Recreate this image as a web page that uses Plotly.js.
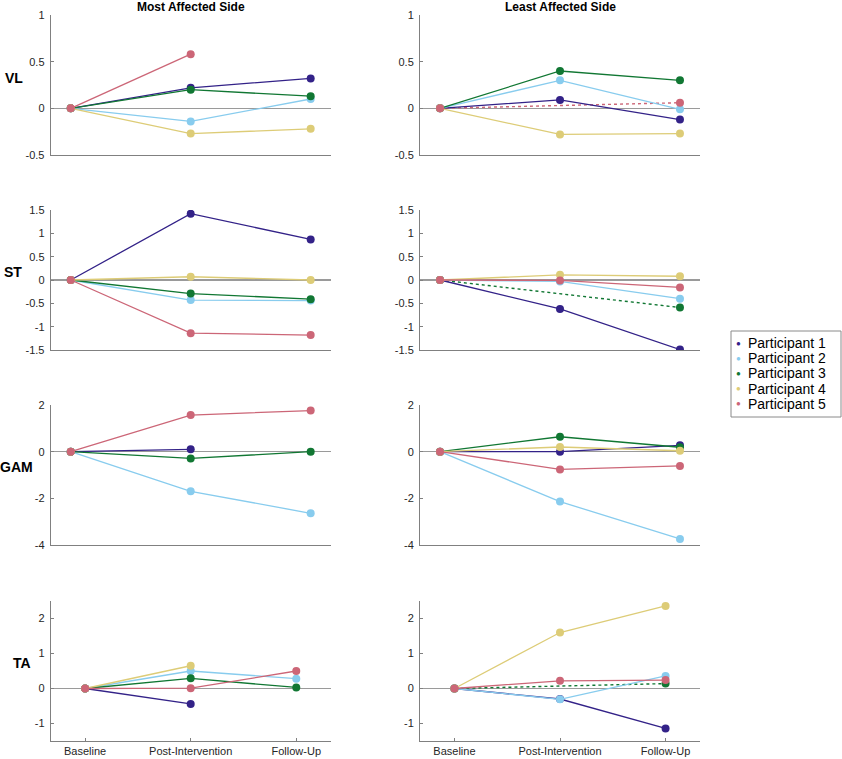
<!DOCTYPE html>
<html>
<head>
<meta charset="utf-8">
<script src="https://cdn.plot.ly/plotly-3.0.1.min.js"></script>
<style>html,body{margin:0;padding:0;background:#fff}#chart{width:842px;height:759px}</style>
</head>
<body>
<div id="chart"></div>
<script>
// ---- data ----
const timepoints = ['Baseline', 'Post-Intervention', 'Follow-Up'];
const participants = ['Participant 1', 'Participant 2', 'Participant 3', 'Participant 4', 'Participant 5'];
const colors = ['#332288', '#88CCEE', '#117733', '#DDCC77', '#CC6677'];
const muscles = ['VL', 'ST', 'GAM', 'TA'];
const sides = ['Most Affected Side', 'Least Affected Side'];

// each row: participant 1..5 values at [Baseline, Post-Intervention, Follow-Up]
const vlMost  = [[0, 0.22, 0.32], [0, -0.14, 0.10], [0, 0.20, 0.13], [0, -0.27, -0.22], [0, 0.58, null]];
const vlLeast = [[0, 0.09, -0.12], [0, 0.30, -0.01], [0, 0.40, 0.30], [0, -0.28, -0.27], [0, null, 0.06]];
const stMost  = [[0, 1.42, 0.87], [0, -0.43, -0.44], [0, -0.29, -0.41], [0, 0.07, 0.00], [0, -1.14, -1.18]];
const stLeast = [[0, -0.62, -1.49], [0, -0.03, -0.40], [0, null, -0.59], [0, 0.11, 0.08], [0, -0.01, -0.16]];
const gamMost = [[0, 0.10, null], [0, -1.70, -2.64], [0, -0.29, 0.00], [0, null, null], [0, 1.57, 1.76]];
const gamLeast= [[0, 0.00, 0.27], [0, -2.14, -3.74], [0, 0.64, 0.19], [0, 0.20, 0.04], [0, -0.76, -0.61]];
const taMost  = [[0, -0.44, null], [0, 0.50, 0.28], [0, 0.29, 0.03], [0, 0.65, null], [0, 0.01, 0.50]];
const taLeast = [[0, -0.30, -1.14], [0, -0.31, 0.36], [0, null, 0.14], [0, 1.60, 2.36], [0, 0.22, 0.24]];

const yRanges = [[-0.5, 1], [-1.5, 1.5], [-4, 2], [-1.5, 2.5]];
const yTicks = [[-0.5, 0, 0.5, 1], [-1.5, -1, -0.5, 0, 0.5, 1, 1.5], [-4, -2, 0, 2], [-1, 0, 1, 2]];

const panels = [[vlMost, vlLeast], [stMost, stLeast], [gamMost, gamLeast], [taMost, taLeast]];

// ---- layout geometry ----
const W = 842, H = 759;
const colX = [[50.7, 330.7], [420, 700]];
const rowY = [[15, 155], [210, 350], [405, 545], [601, 741]];

const traces = [];
const layout = {
  width: W, height: H,
  margin: {l: 0, r: 0, t: 0, b: 0},
  paper_bgcolor: '#fff', plot_bgcolor: 'rgba(0,0,0,0)',
  font: {family: 'Liberation Sans, Arial, sans-serif', size: 11, color: '#262626'},
  showlegend: false,
  annotations: [], shapes: []
};

const labelPos = [[14, 78], [13, 272], [16, 467], [22, 663]];

for (let r = 0; r < 4; r++) {
  for (let c = 0; c < 2; c++) {
    const idx = r * 2 + c + 1;
    const sfx = (idx === 1 ? '' : String(idx));
    const bottom = (r === 3);
    layout['xaxis' + sfx] = {
      domain: [colX[c][0] / W, colX[c][1] / W],
      anchor: 'y' + sfx,
      range: bottom ? [0.674, 3.326] : [0.833, 3.167],
      tickvals: [1, 2, 3], ticktext: timepoints,
      showticklabels: bottom, ticks: bottom ? 'inside' : '', ticklen: 3, tickcolor: '#808080',
      showline: true, linecolor: '#808080', linewidth: 1,
      showgrid: false, zeroline: false, fixedrange: true,
      tickfont: {size: 11, color: '#262626'}
    };
    layout['yaxis' + sfx] = {
      domain: [1 - rowY[r][1] / H, 1 - rowY[r][0] / H],
      anchor: 'x' + sfx,
      range: yRanges[r], tickvals: yTicks[r], ticktext: yTicks[r].map(v => String(v)),
      ticks: 'inside', ticklen: 3, tickcolor: '#808080', ticklabelstandoff: 3,
      showline: true, linecolor: '#808080', linewidth: 1,
      showgrid: false, zeroline: true, zerolinecolor: '#9a9a9a', zerolinewidth: 1.6,
      fixedrange: true, tickfont: {size: 11, color: '#262626'}
    };
    const data = panels[r][c];
    for (let p = 0; p < participants.length; p++) {
      const y = data[p];
      // dotted connection where Post-Intervention is missing
      if (y[1] === null && y[0] !== null && y[2] !== null) {
        traces.push({
          x: [1, 2, 3], y: [y[0], null, y[2]], xaxis: 'x' + sfx, yaxis: 'y' + sfx,
          mode: 'lines', connectgaps: true, showlegend: false, hoverinfo: 'skip',
          line: {color: colors[p], width: 1.4, dash: 'dot'}
        });
      }
    }
    for (let p = 0; p < participants.length; p++) {
      traces.push({
        x: [1, 2, 3], y: data[p], xaxis: 'x' + sfx, yaxis: 'y' + sfx,
        mode: 'lines+markers', connectgaps: false, showlegend: false,
        name: participants[p],
        line: {color: colors[p], width: 1.3},
        marker: {color: colors[p], size: 8}
      });
    }
  }
  layout.annotations.push({
    text: '<b>' + muscles[r] + '</b>', xref: 'paper', yref: 'paper',
    x: labelPos[r][0] / W, y: 1 - labelPos[r][1] / H, xanchor: 'center', yanchor: 'middle',
    showarrow: false, font: {size: 14, color: '#000'}
  });
}
for (let c = 0; c < 2; c++) {
  layout.annotations.push({
    text: '<b>' + sides[c] + '</b>', xref: 'paper', yref: 'paper',
    x: ((colX[c][0] + colX[c][1]) / 2) / W, y: 1 - 7 / H, xanchor: 'center', yanchor: 'middle',
    showarrow: false, font: {size: 12, color: '#000'}
  });
}
// legend (box + marker glyph + label for each participant)
const legTop = 331, legBottom = 417, legLeft = 731, legRight = 841, legRow0 = 343, legStep = 15.2;
layout.shapes.push({
  type: 'rect', xref: 'paper', yref: 'paper',
  x0: legLeft / W, x1: legRight / W, y0: 1 - legBottom / H, y1: 1 - legTop / H,
  line: {color: '#8a8a8a', width: 1}, fillcolor: '#fff', layer: 'above'
});
for (let p = 0; p < participants.length; p++) {
  const yy = 1 - (legRow0 + p * legStep) / H;
  layout.annotations.push({
    text: '●', xref: 'paper', yref: 'paper', x: 738.5 / W, y: yy,
    xanchor: 'center', yanchor: 'middle', showarrow: false,
    font: {size: 8, color: colors[p]}
  });
  layout.annotations.push({
    text: participants[p], xref: 'paper', yref: 'paper', x: 746 / W, y: yy,
    xanchor: 'left', yanchor: 'middle', showarrow: false,
    font: {size: 14, color: '#000'}
  });
}

Plotly.newPlot('chart', traces, layout, {displayModeBar: false, staticPlot: true});
</script>
</body>
</html>
